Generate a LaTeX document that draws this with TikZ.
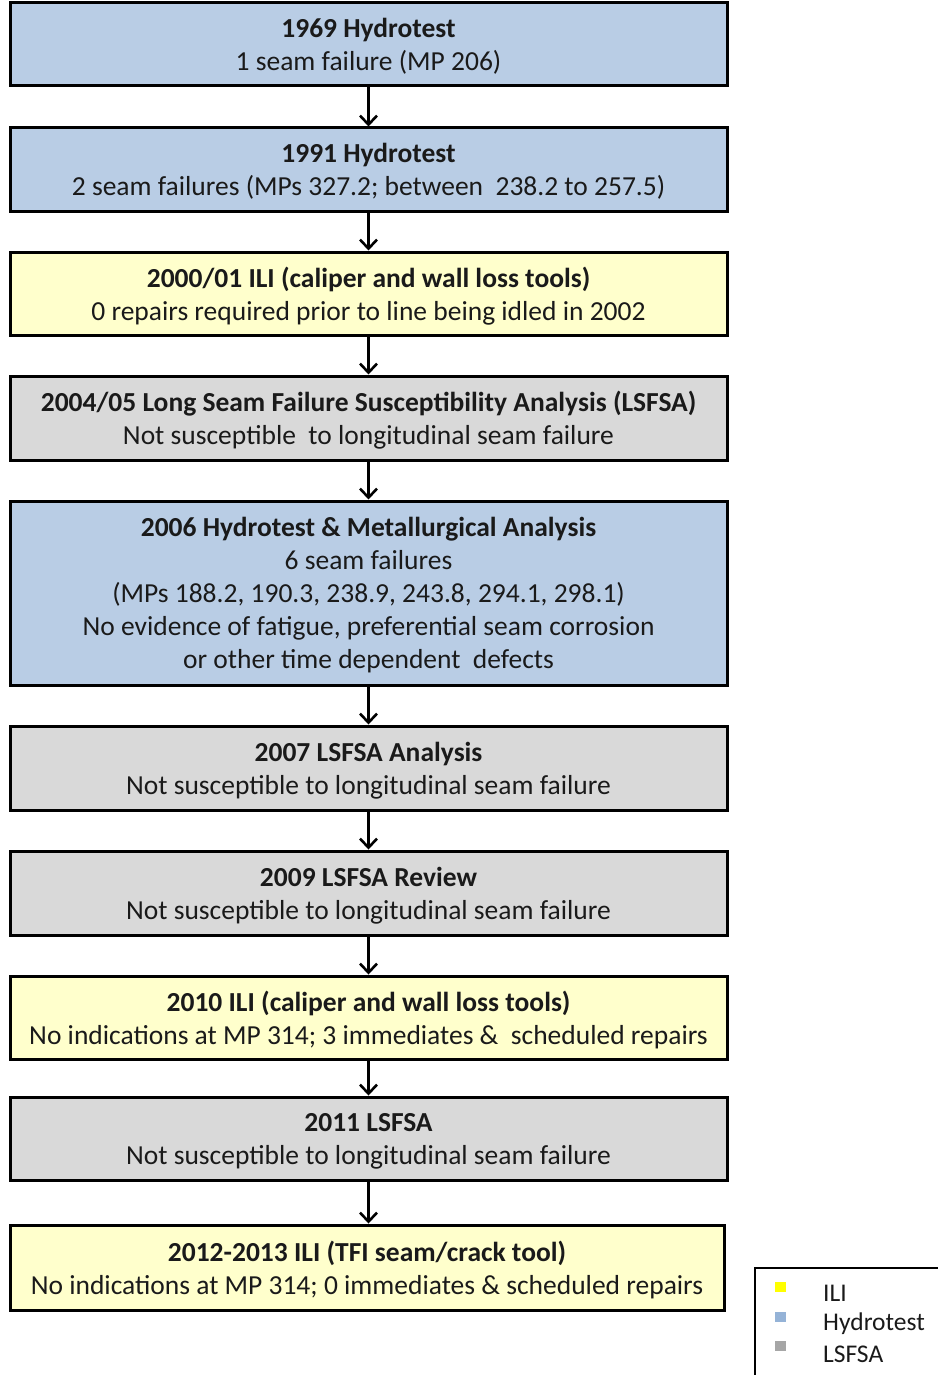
\documentclass[tikz,border=0pt]{standalone}
\usepackage{fontspec}
\setmainfont{Carlito}
\usetikzlibrary{arrows.meta}
\definecolor{hydro}{HTML}{B9CDE5}
\definecolor{ili}{HTML}{FFFFCC}
\definecolor{lsf}{HTML}{D9D9D9}
\definecolor{txt}{HTML}{1A1A1A}
\definecolor{legili}{HTML}{FFFF00}
\definecolor{leghyd}{HTML}{95B3D7}
\definecolor{leglsf}{HTML}{A6A6A6}
\tikzset{
  stagebox/.style={draw=black, line width=3pt, minimum width=717pt, inner sep=0pt,
    align=center, text=txt, font=\fontsize{27.5}{33}\selectfont, text depth=0pt},
  hydrobox/.style={stagebox, fill=hydro},
  ilibox/.style={stagebox, fill=ili},
  lsfbox/.style={stagebox, fill=lsf},
  arr/.style={draw=black, line width=2.6pt, -{Straight Barb[length=9pt,width=17pt]}},
  legtext/.style={anchor=west, text=txt, font=\fontsize{25.5}{28}\selectfont, inner sep=0pt},
}
\begin{document}
\begin{tikzpicture}[x=1pt,y=-1pt]
\useasboundingbox (0,0) rectangle (938,1375);
\node[hydrobox, minimum height=83pt] (b1) at (368.5,44.5) {\textbf{1969 Hydrotest}\\1 seam failure (MP 206)};
\node[hydrobox, minimum height=83pt] (b2) at (368.5,169.5) {\textbf{1991 Hydrotest}\\2 seam failures (MPs 327.2; between\ \ 238.2 to 257.5)};
\node[ilibox, minimum height=83pt] (b3) at (368.5,293.5) {\textbf{2000/01 ILI (caliper and wall loss tools)}\\0 repairs required prior to line being idled in 2002};
\node[lsfbox, minimum height=84pt] (b4) at (368.5,418) {\textbf{2004/05 Long Seam Failure Susceptibility Analysis (LSFSA)}\\Not susceptible\ \ to longitudinal seam failure};
\node[hydrobox, minimum height=184pt] (b5) at (368.5,593) {\textbf{2006 Hydrotest \& Metallurgical Analysis}\\6 seam failures\\(MPs 188.2, 190.3, 238.9, 243.8, 294.1, 298.1)\\No evidence of fatigue, preferential seam corrosion\\or other time dependent\ \ defects};
\node[lsfbox, minimum height=84pt] (b6) at (368.5,768) {\textbf{2007 LSFSA Analysis}\\Not susceptible to longitudinal seam failure};
\node[lsfbox, minimum height=84pt] (b7) at (368.5,893) {\textbf{2009 LSFSA Review}\\Not susceptible to longitudinal seam failure};
\node[ilibox, minimum height=83pt] (b8) at (368.5,1017.5) {\textbf{2010 ILI (caliper and wall loss tools)}\\No indications at MP 314; 3 immediates \&\ \ scheduled repairs};
\node[lsfbox, minimum height=83pt] (b9) at (368.5,1138.5) {\textbf{2011 LSFSA}\\Not susceptible to longitudinal seam failure};
\node[ilibox, minimum height=85pt, minimum width=714pt] (b10) at (367,1267.5) {\textbf{2012-2013 ILI (TFI seam/crack tool)}\\No indications at MP 314; 0 immediates \& scheduled repairs};
\draw[arr] (b1) -- (b2);
\draw[arr] (b2) -- (b3);
\draw[arr] (b3) -- (b4);
\draw[arr] (b4) -- (b5);
\draw[arr] (b5) -- (b6);
\draw[arr] (b6) -- (b7);
\draw[arr] (b7) -- (b8);
\draw[arr] (b8) -- (b9);
\draw[arr] (b9.south -| b1.south) -- (b10.north -| b1.south);
% legend
\coordinate (lgb) at (755,1375);
\coordinate (lgc) at (755,1268);
\coordinate (lge) at (938,1268);
\draw[line width=1.5pt] (lgb) -- (lgc) -- (lge);
\fill[legili] (775,1282) rectangle (786,1292);
\fill[leghyd] (775,1312) rectangle (786,1322);
\fill[leglsf] (775,1341) rectangle (786,1351);
\node[legtext] (l1) at (823,1293) {ILI};
\node[legtext] (l2) at (823,1324) {Hydrotest};
\node[legtext] (l3) at (823,1354) {LSFSA};
\end{tikzpicture}
\end{document}
